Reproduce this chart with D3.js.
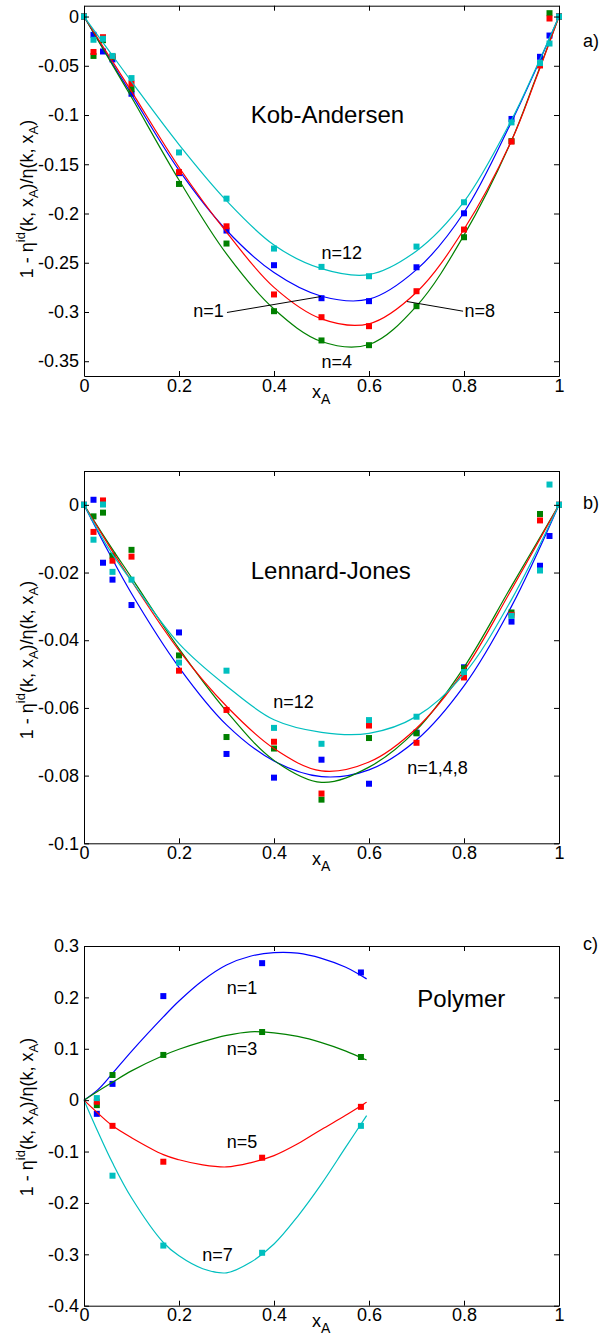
<!DOCTYPE html>
<html>
<head>
<meta charset="utf-8">
<script src="https://cdn.jsdelivr.net/npm/d3@7"></script>
<style>
body { margin: 0; background: #fff; }
text { font-family: "Liberation Sans", Arial, Helvetica, sans-serif; }
</style>
</head>
<body>
<svg id="fig" width="600" height="1337"></svg>
<script>
// series colours, n=1 / n=4 / n=8 / n=12 (and n=1,3,5,7 for the polymer)
var colors = ["#0000ff", "#008000", "#ff0000", "#00bfbf"];

var xTicks = [0, 0.2, 0.4, 0.6, 0.8, 1];

// ---- a) Kob-Andersen
var kaX = [0, 0.02, 0.04, 0.06, 0.1, 0.2, 0.3, 0.4, 0.5, 0.6, 0.7, 0.8, 0.9, 0.96, 0.98, 1];
var kaN1 = [0, -0.0186, -0.0355, -0.0435, -0.0784, -0.159, -0.2173, -0.2525, -0.286, -0.289, -0.2546, -0.1998, -0.104, -0.0409, -0.0193, 0];
var kaN4 = [0, -0.040, -0.024, -0.041, -0.0737, -0.170, -0.2305, -0.2992, -0.3289, -0.3337, -0.2941, -0.2241, -0.1265, -0.048, 0.0034, 0];
var kaN8 = [0, -0.036, -0.021, -0.0405, -0.068, -0.158, -0.213, -0.2822, -0.3053, -0.3144, -0.2789, -0.2163, -0.127, -0.0497, -0.002, 0];
var kaN12 = [0, -0.0236, -0.0226, -0.040, -0.0625, -0.138, -0.1849, -0.2356, -0.2542, -0.2637, -0.2336, -0.1886, -0.1075, -0.0473, -0.0274, 0];
var kaFitX = [0, 0.05, 0.1, 0.2, 0.3, 0.4, 0.5, 0.6, 0.7, 0.8, 0.9, 0.95, 1];
var kaFitN1 = [0, -0.040, -0.079, -0.156, -0.217, -0.260, -0.284, -0.287, -0.257, -0.199, -0.107, -0.055, 0];
var kaFitN4 = [0, -0.041, -0.082, -0.166, -0.241, -0.297, -0.330, -0.333, -0.294, -0.222, -0.126, -0.064, 0];
var kaFitN8 = [0, -0.038, -0.076, -0.153, -0.219, -0.275, -0.307, -0.312, -0.280, -0.216, -0.126, -0.065, 0];
var kaFitN12 = [0, -0.033, -0.066, -0.130, -0.187, -0.232, -0.256, -0.262, -0.238, -0.188, -0.105, -0.054, 0];
var kaYTicks = [0, -0.05, -0.1, -0.15, -0.2, -0.25, -0.3, -0.35];

// ---- b) Lennard-Jones
var ljX = [0, 0.02, 0.04, 0.06, 0.1, 0.2, 0.3, 0.4, 0.5, 0.6, 0.7, 0.8, 0.9, 0.96, 0.98, 1];
var ljN1 = [0, 0.0015, -0.0171, -0.0221, -0.0296, -0.0377, -0.0736, -0.0806, -0.0753, -0.0824, -0.0673, -0.048, -0.0345, -0.018, -0.0092, 0];
var ljN4 = [0, -0.0034, -0.0023, -0.015, -0.0133, -0.0445, -0.0686, -0.072, -0.0871, -0.0689, -0.0675, -0.0483, -0.0318, -0.0027, null, 0];
var ljN8 = [0, -0.008, 0.0013, -0.0165, -0.0153, -0.049, -0.0606, -0.070, -0.0853, -0.0652, -0.0703, -0.051, -0.0325, -0.0046, null, 0];
var ljN12 = [0, -0.0103, 0.0001, -0.0198, -0.0221, -0.0466, -0.049, -0.0659, -0.0706, -0.0636, -0.0626, -0.0494, -0.0328, -0.0194, 0.006, 0];
var ljFitX = [0, 0.05, 0.1, 0.2, 0.3, 0.4, 0.5, 0.6, 0.7, 0.8, 0.9, 1];
var ljFitN1 = [0, -0.0135, -0.0262, -0.0480, -0.0650, -0.0757, -0.0803, -0.0783, -0.0695, -0.0535, -0.0300, 0];
var ljFitN4 = [0, -0.0110, -0.0215, -0.0425, -0.0610, -0.0755, -0.0820, -0.0775, -0.0665, -0.0480, -0.0240, 0];
var ljFitN8 = [0, -0.0115, -0.0225, -0.0430, -0.0595, -0.0720, -0.0786, -0.0760, -0.0660, -0.0490, -0.0250, 0];
var ljFitN12 = [0, -0.0125, -0.0225, -0.0410, -0.0535, -0.0635, -0.0672, -0.0675, -0.0625, -0.0500, -0.0280, 0];
var ljYTicks = [0, -0.02, -0.04, -0.06, -0.08, -0.1];

// ---- c) Polymer
var polX = [0.027, 0.06, 0.167, 0.375, 0.583];
var polN1 = [-0.0266, 0.0317, 0.2025, 0.2666, 0.2485];
var polN3 = [-0.0097, 0.049, 0.088, 0.1326, 0.084];
var polN5 = [-0.003, -0.050, -0.1198, -0.112, -0.013];
var polN7 = [0.004, -0.147, -0.283, -0.297, -0.050];
var polFitX = [0, 0.03, 0.06, 0.1, 0.167, 0.2, 0.25, 0.3, 0.35, 0.4, 0.45, 0.5, 0.55, 0.595];
var polFitN1 = [0, 0.021, 0.052, 0.095, 0.162, 0.193, 0.233, 0.263, 0.280, 0.287, 0.286, 0.276, 0.259, 0.236];
var polFitN3 = [0, 0.018, 0.035, 0.057, 0.087, 0.099, 0.114, 0.126, 0.133, 0.131, 0.124, 0.112, 0.096, 0.078];
var polFitN5 = [0, -0.026, -0.050, -0.073, -0.106, -0.116, -0.126, -0.130, -0.122, -0.108, -0.085, -0.057, -0.030, -0.004];
var polFitN7 = [0, -0.063, -0.122, -0.190, -0.277, -0.303, -0.328, -0.336, -0.316, -0.280, -0.226, -0.163, -0.093, -0.030];
var polYTicks = [0.3, 0.2, 0.1, 0, -0.1, -0.2, -0.3, -0.4];

var svg = d3.select("#fig");
var FONT = "'Liberation Sans', Arial, Helvetica, sans-serif";
var LEFT = 84, RIGHT = 559;
var x = d3.scaleLinear().domain([0, 1]).range([LEFT, RIGHT]);

var panels = [
    { top: 5.7, bottom: 376, yDomain: [-0.365, 0.011], yTicks: kaYTicks, letter: "a)", letterY: 47, labelY: 199,
      xs: kaX, points: [kaN1, kaN4, kaN8, kaN12], fitX: kaFitX, fits: [kaFitN1, kaFitN4, kaFitN8, kaFitN12],
      notes: [
        { t: "Kob-Andersen", x: 0.351, y: -0.108, size: 24 },
        { t: "n=12", x: 0.500, y: -0.2457 },
        { t: "n=1", x: 0.230, y: -0.3049 },
        { t: "n=8", x: 0.801, y: -0.3053 },
        { t: "n=4", x: 0.500, y: -0.3566 }
      ],
      leaders: [[[0.301, -0.3005], [0.499, -0.2843]], [[0.680, -0.2894], [0.798, -0.2992]]] },
    { top: 471, bottom: 843.3, yDomain: [-0.1, 0.01], yTicks: ljYTicks, letter: "b)", letterY: 508.5, labelY: 660,
      xs: ljX, points: [ljN1, ljN4, ljN8, ljN12], fitX: ljFitX, fits: [ljFitN1, ljFitN4, ljFitN8, ljFitN12],
      notes: [
        { t: "Lennard-Jones", x: 0.351, y: -0.0219, size: 24 },
        { t: "n=12", x: 0.3986, y: -0.0601 },
        { t: "n=1,4,8", x: 0.6807, y: -0.0796 }
      ],
      leaders: [] },
    { top: 946, bottom: 1305.7, yDomain: [-0.4, 0.3], yTicks: polYTicks, letter: "c)", letterY: 950, labelY: 1117,
      xs: polX, points: [polN1, polN3, polN5, polN7], fitX: polFitX, fits: [polFitN1, polFitN3, polFitN5, polFitN7],
      notes: [
        { t: "Polymer", x: 0.7017, y: 0.182, size: 24 },
        { t: "n=1", x: 0.3004, y: 0.2067 },
        { t: "n=3", x: 0.3004, y: 0.088 },
        { t: "n=5", x: 0.3004, y: -0.0936 },
        { t: "n=7", x: 0.249, y: -0.3123 }
      ],
      leaders: [] }
];

function styleAxis(sel) {
    sel.attr("font-size", 18).attr("font-family", FONT);
    sel.selectAll("path, line").attr("stroke", "#000").attr("stroke-width", 1);
    sel.selectAll("text").attr("fill", "#000");
}

panels.forEach(function(p) {
    var y = d3.scaleLinear().domain(p.yDomain).range([p.bottom, p.top]);
    var g = svg.append("g");

    var line = d3.line()
        .x(function(d) { return x(d[0]); })
        .y(function(d) { return y(d[1]); })
        .curve(d3.curveCatmullRom);

    p.fits.forEach(function(f, i) {
        g.append("path")
            .datum(d3.zip(p.fitX, f))
            .attr("d", line)
            .attr("fill", "none")
            .attr("stroke", colors[i])
            .attr("stroke-width", 1.2);

        var pts = d3.zip(p.xs, p.points[i]).filter(function(d) { return d[1] != null; });
        g.selectAll(null)
            .data(pts)
            .enter()
            .append("rect")
            .attr("x", function(d) { return x(d[0]) - 3; })
            .attr("y", function(d) { return y(d[1]) - 3; })
            .attr("width", 6)
            .attr("height", 6)
            .attr("fill", colors[i]);
    });

    // leader lines for the labels
    p.leaders.forEach(function(l) {
        g.append("line")
            .attr("x1", x(l[0][0])).attr("y1", y(l[0][1]))
            .attr("x2", x(l[1][0])).attr("y2", y(l[1][1]))
            .attr("stroke", "#000").attr("stroke-width", 1);
    });

    p.notes.forEach(function(n) {
        g.append("text")
            .attr("x", x(n.x))
            .attr("y", y(n.y))
            .attr("font-size", n.size || 18)
            .text(n.t);
    });

    // box with inward ticks on all sides
    g.append("g")
        .attr("transform", "translate(0," + p.bottom + ")")
        .call(d3.axisBottom(x).tickValues(xTicks).tickSize(-5).tickSizeOuter(0).tickPadding(3)
            .tickFormat(function(d) { return String(d); }))
        .call(styleAxis);
    g.append("g")
        .attr("transform", "translate(0," + p.top + ")")
        .call(d3.axisTop(x).tickValues(xTicks).tickSize(-5).tickSizeOuter(0).tickFormat(""))
        .call(styleAxis);
    g.append("g")
        .attr("transform", "translate(" + LEFT + ",0)")
        .call(d3.axisLeft(y).tickValues(p.yTicks).tickSize(-5).tickSizeOuter(0).tickPadding(5)
            .tickFormat(function(d) { return String(d); }))
        .call(styleAxis);
    g.append("g")
        .attr("transform", "translate(" + RIGHT + ",0)")
        .call(d3.axisRight(y).tickValues(p.yTicks).tickSize(-5).tickSizeOuter(0).tickFormat(""))
        .call(styleAxis);

    // x label
    var xl = g.append("text")
        .attr("x", 312)
        .attr("y", p.bottom + 21.5)
        .attr("font-size", 18);
    xl.append("tspan").text("x");
    xl.append("tspan").attr("font-size", 14).attr("dy", 6).text("A");

    // y label
    var yl = g.append("text")
        .attr("transform", "translate(33," + p.labelY + ") rotate(-90)")
        .attr("text-anchor", "middle")
        .attr("font-size", 18);
    yl.append("tspan").text("1 - \u03b7");
    yl.append("tspan").attr("font-size", 13).attr("dy", -8).text("id");
    yl.append("tspan").attr("dy", 8).text("(k, x");
    yl.append("tspan").attr("font-size", 13).attr("dy", 5).text("A");
    yl.append("tspan").attr("dy", -5).text(")/\u03b7(k, x");
    yl.append("tspan").attr("font-size", 13).attr("dy", 5).text("A");
    yl.append("tspan").attr("dy", -5).text(")");

    g.append("text")
        .attr("x", 583)
        .attr("y", p.letterY)
        .attr("font-size", 18)
        .text(p.letter);
});
</script>
</body>
</html>
